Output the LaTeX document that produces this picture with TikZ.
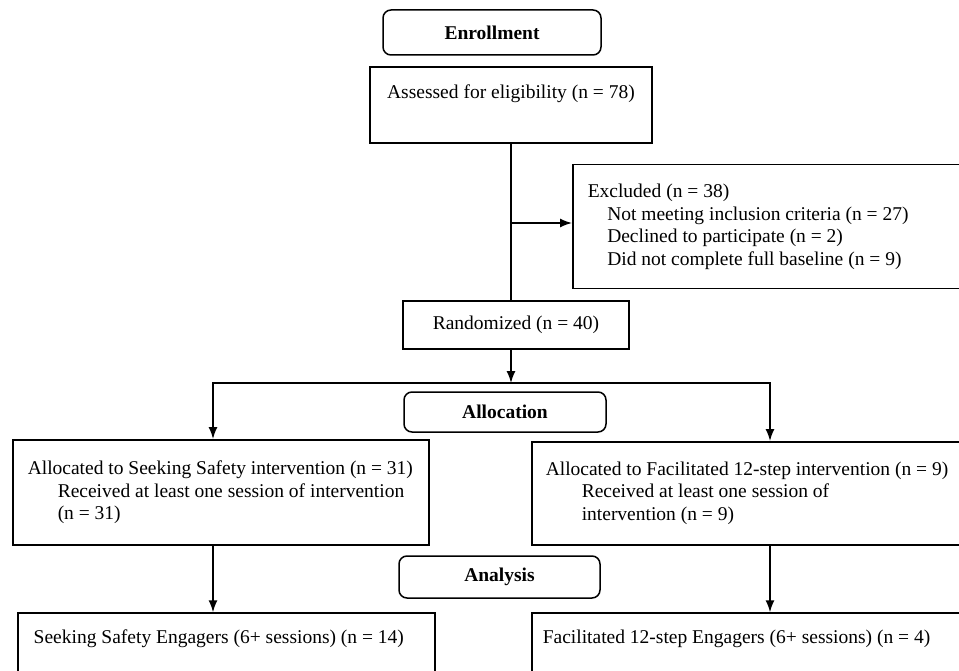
\documentclass[tikz,border=0pt]{standalone}
\usepackage{fontspec}
\setmainfont{Liberation Serif}
\usetikzlibrary{arrows.meta}

\tikzset{every picture/.style={line width=1.5pt}}
\tikzset{
  box/.style={draw, rectangle, inner sep=0pt, font=\fontsize{19.5}{22.4}\selectfont},
  stage/.style={draw, rectangle, rounded corners=8pt, inner sep=0pt, font=\fontsize{19.5}{22.4}\selectfont\bfseries},
  flow/.style={-{Latex[length=12pt,width=9pt]}},
}

\begin{document}
\begin{tikzpicture}[x=1pt,y=1pt,yscale=-1,xscale=1]
			%set diagram size 959 x 671, boxes on the right and bottom run off the page
			\useasboundingbox (0,0) rectangle (959,671);
			\clip (0,0) rectangle (959,671);

			%Shape: Rounded Rect [Enrollment]
			\node[stage, minimum width=218pt, minimum height=45pt] (enroll) at (492,32.5) {Enrollment};
			%Shape: Rectangle [Assessed]
			\node[box, minimum width=282pt, text height=32pt, text depth=44pt, anchor=base] (assess) at (511,99) {Assessed for eligibility (n = 78)};
			%Shape: Rectangle [Excluded]
			\node[box, anchor=north west, text width=398pt, inner xsep=15pt, minimum height=124pt, align=flush left] (excl) at (572,164) {Excluded (n = 38)\\
				\hspace*{1em}Not meeting inclusion criteria (n = 27)\\
				\hspace*{1em}Declined to participate (n = 2)\\
				\hspace*{1em}Did not complete full baseline (n = 9)};
			%Shape: Rectangle [Randomized]
			\node[box, minimum width=226pt, minimum height=48pt] (rand) at (516,325) {Randomized (n = 40)};

			%Shape: Rounded Rect [Allocation]
			\node[stage, minimum width=202pt, minimum height=40pt] (alloc) at (505,412) {Allocation};
			%Shape: Rectangle [Seeking Safety arm]
			\node[box, anchor=north west, text width=386pt, inner xsep=15pt, minimum height=105pt, align=flush left] (ssAlloc) at (12,439) {Allocated to Seeking Safety intervention (n = 31)\\
				\hspace*{30pt}Received at least one session of intervention\\
				\hspace*{30pt}(n = 31)};
			%Shape: Rectangle [12-step arm]
			\node[box, anchor=north west, text width=440pt, inner xsep=14pt, minimum height=103pt, align=flush left] (tsfAlloc) at (531,441) {Allocated to Facilitated 12-step intervention (n = 9)\\
				\hspace*{36pt}Received at least one session of\\
				\hspace*{36pt}intervention (n = 9)};

			%Shape: Rounded Rect [Analysis]
			\node[stage, minimum width=201pt, minimum height=42pt] (analysis) at (499.5,577) {Analysis};
			%Shape: Rectangle [Engagers]
			\node[box, anchor=base west, text width=385pt, inner xsep=16pt, text height=30pt, text depth=60pt, align=flush left] (ssEng) at (17,643) {Seeking Safety Engagers (6+ sessions) (n = 14)};
			\node[box, anchor=base west, text width=440pt, inner xsep=11pt, text height=30pt, text depth=60pt, align=flush left] (tsfEng) at (531,643) {Facilitated 12-step Engagers (6+ sessions) (n = 4)};

			%Straight Lines
			\coordinate (branch) at (511,223);
			\coordinate (split) at (511,383);
			\coordinate (leftcol) at (213,383);
			\coordinate (rightcol) at (770,383);
			\draw (assess.south) -- (assess.south |- rand.north);
			\draw[flow] (branch) -- (branch -| excl.west);
			\draw[flow] (assess.south |- rand.south) -- (split);
			\draw[flow] (split) -| (leftcol |- ssAlloc.north);
			\draw[flow] (split) -| (rightcol |- tsfAlloc.north);
			\draw[flow] (leftcol |- ssAlloc.south) -- (leftcol |- ssEng.north);
			\draw[flow] (rightcol |- tsfAlloc.south) -- (rightcol |- tsfEng.north);

		\end{tikzpicture}
\end{document}
